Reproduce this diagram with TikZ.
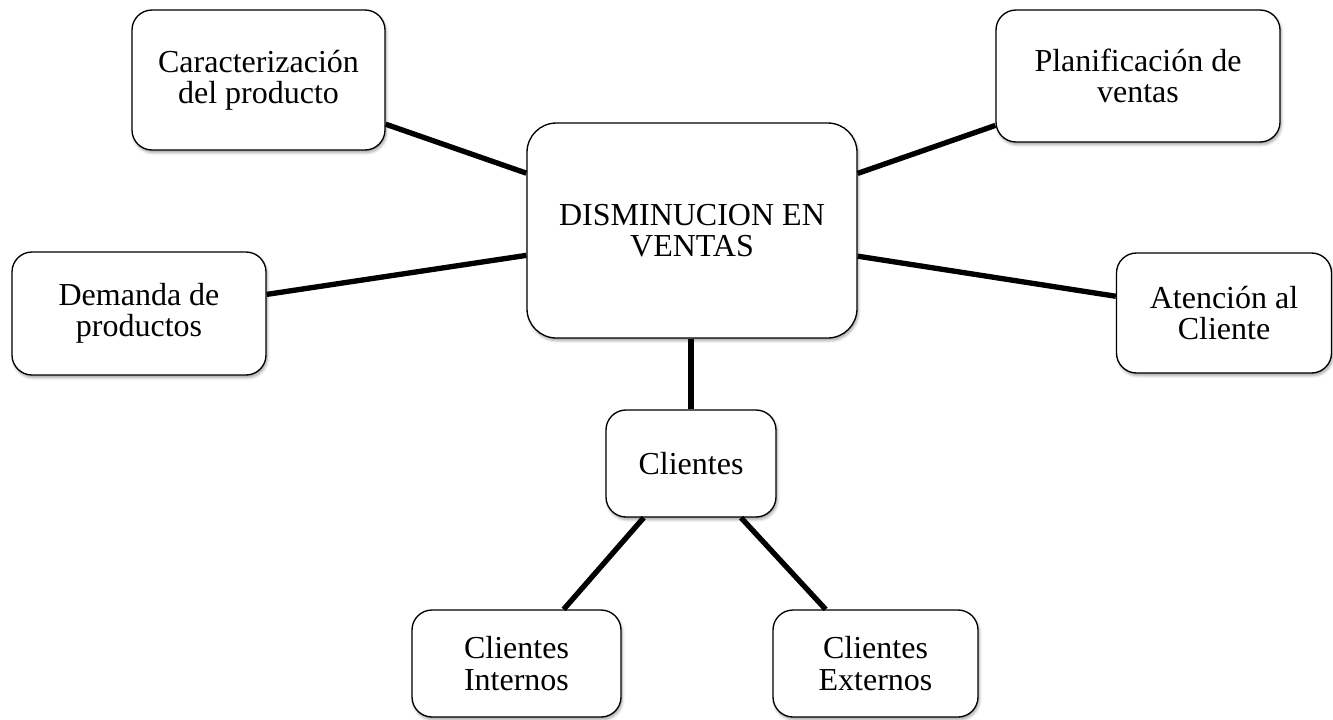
\documentclass[tikz,border=0pt]{standalone}
\usepackage{fontspec}
\setmainfont{Liberation Serif}
\usetikzlibrary{shadows.blur}
\begin{document}
\begin{tikzpicture}[x=0.75pt,y=-0.75pt,
  box/.style={draw=black, line width=1pt, fill=white, rounded corners=15pt,
    align=center, inner sep=0pt,
    font=\fontsize{24}{23.5}\selectfont,
    blur shadow={shadow xshift=1pt, shadow yshift=-2pt, shadow blur radius=2pt, shadow opacity=35}},
  link/.style={draw=black, line width=4pt}]
\useasboundingbox (0,0) rectangle (1333,719);

% central topic
\node[box, rounded corners=22pt, minimum width=247.5pt, minimum height=161.25pt]
  (main) at (692,230.5) {DISMINUCION EN\\VENTAS};

% surrounding topics
\node[box, minimum width=189.75pt, minimum height=105pt]
  (car) at (258.5,80) {Caracterización\\del producto};
\node[box, minimum width=213pt, minimum height=99pt]
  (plan) at (1138,76) {Planificación de\\ventas};
\node[box, minimum width=190.5pt, minimum height=92.25pt]
  (dem) at (139,313.5) {Demanda de\\productos};
\node[box, minimum width=161.25pt, minimum height=90pt]
  (aten) at (1224,313) {Atención al\\Cliente};
\node[box, minimum width=127.5pt, minimum height=80.25pt]
  (cli) at (691,463.5) {Clientes};
\node[box, minimum width=156.75pt, minimum height=80.25pt]
  (int) at (516.5,663.5) {Clientes\\Internos};
\node[box, minimum width=153.75pt, minimum height=80.25pt]
  (ext) at (875.5,663.5) {Clientes\\Externos};

% connectors
\draw[link] (car) -- (main);
\draw[link] (plan) -- (main);
\draw[link] (dem) -- (main);
\draw[link] (aten) -- (main);
\draw[link] (cli.north |- main.south) -- (cli.north);
\draw[link] (cli) -- (int);
\draw[link] (cli) -- (ext);
\end{tikzpicture}
\end{document}
